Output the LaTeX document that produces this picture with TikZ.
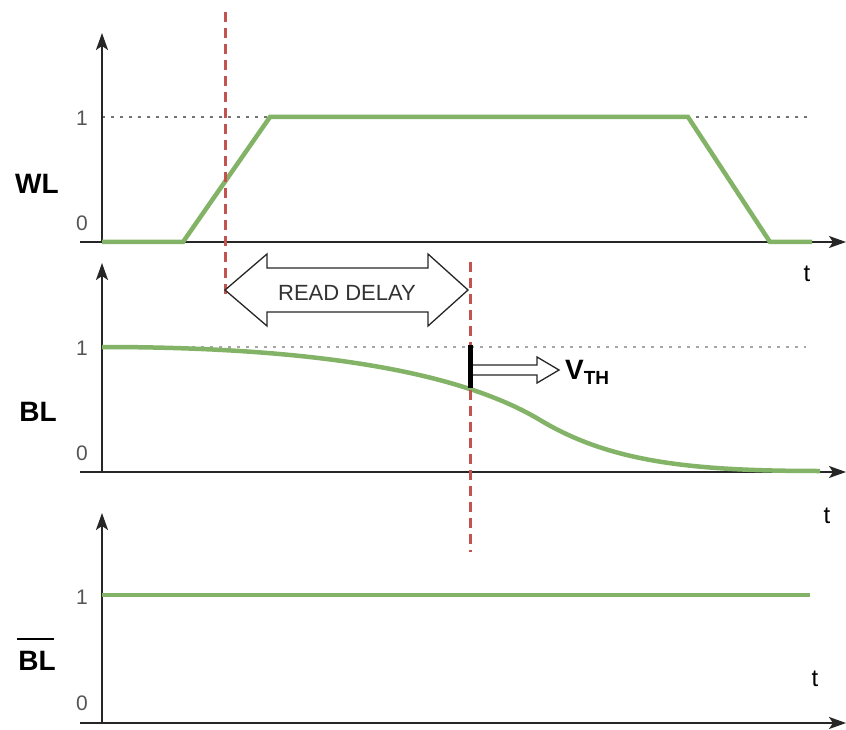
\documentclass[tikz,border=0pt]{standalone}
\usepackage{fontspec}
\setmainfont{Liberation Sans}
\usetikzlibrary{arrows.meta}
\definecolor{sig}{HTML}{82B366}
\definecolor{mark}{HTML}{C4524E}
\definecolor{numgray}{HTML}{555555}
\definecolor{txtgray}{HTML}{333333}
\begin{document}
\begin{tikzpicture}[x=1pt,y=-1pt,
  axis/.style={line width=2pt, draw=black!85, -{Stealth[length=17pt,width=12pt,inset=4pt]}},
  level/.style={line width=2pt, dash pattern=on 3pt off 6pt},
  wave/.style={line width=4.5pt, draw=sig, line join=miter},
  marker/.style={line width=3pt, draw=mark, dash pattern=on 10pt off 6pt},
  num/.style={font=\fontsize{21}{24}\selectfont, text=numgray, inner sep=0pt},
  sig label/.style={font=\fontsize{28}{30}\selectfont\bfseries, inner sep=0pt},
  tlab/.style={font=\fontsize{24}{26}\selectfont, inner sep=0pt},
  hollow/.style={draw=black!85, line width=1.3pt, fill=white, line join=miter}
]
\useasboundingbox (0,0) rectangle (846,730);

% ---------------- WL panel ----------------
\coordinate (wlo) at (102,242);
\coordinate (wly) at (102,33);
\coordinate (wlxs) at (80,242);
\coordinate (wlx) at (846,242);
\coordinate (wl1a) at (102,117);
\coordinate (wl1b) at (808,117);
\draw[level, draw=black!55] (wl1a) -- (wl1b);
\draw[axis] (wlo) -- (wly);
\draw[axis] (wlxs) -- (wlx);
\draw[wave] (102,242) -- (183,242) -- (270,117) -- (688,117) -- (770,242) -- (812,242);
\node[num] (wlone) at (82,118) {1};
\node[num] (wlzero) at (82,223) {0};
\node[sig label] (wllab) at (37,184) {WL};
\node[tlab] (wlt) at (807,274) {t};

% ---------------- BL panel ----------------
\coordinate (blo) at (102,472);
\coordinate (bly) at (102,263);
\coordinate (blxs) at (80,472);
\coordinate (blx) at (846,472);
\coordinate (bl1a) at (102,347);
\coordinate (bl1b) at (806,347);
\draw[level, draw=black!35] (bl1a) -- (bl1b);
\draw[axis] (blo) -- (bly);
\draw[axis] (blxs) -- (blx);
\coordinate (blstart) at (102,347);
\coordinate (blmid) at (540,420);
\coordinate (blend) at (820,471);
\draw[wave] (blstart) .. controls (340,347) and (470,378) .. (blmid)
  .. controls (610,462) and (690,471) .. (blend);
\node[num] (blone) at (82,348) {1};
\node[num] (blzero) at (82,453) {0};
\node[sig label] (bllab) at (38,412) {BL};
\node[tlab] (blt) at (827,516) {t};

% ---------------- BL bar panel ----------------
\coordinate (bbo) at (102,723);
\coordinate (bby) at (102,513);
\coordinate (bbxs) at (80,723);
\coordinate (bbx) at (846,723);
\draw[axis] (bbo) -- (bby);
\draw[axis] (bbxs) -- (bbx);
\draw[wave] (102,595) -- (810,595);
\node[num] (bbone) at (82,597) {1};
\node[num] (bbzero) at (82,703) {0};
\node[sig label] (bblab) at (37,661) {BL};
\draw[line width=2.6pt] (17,639) -- (54,639);
\node[tlab] (bbt) at (815,679) {t};

% ---------------- markers ----------------
\coordinate (m1t) at (225,12);
\coordinate (m1b) at (225,300);
\coordinate (m2t) at (470,262);
\coordinate (m2b) at (470,552);
\draw[marker] (m1t) -- (m1b);
\draw[marker] (m2t) -- (m2b);

% READ DELAY double arrow
\draw[hollow] (225,290) -- (267,254) -- (267,268) -- (428,268) -- (428,254)
  -- (468,290) -- (428,326) -- (428,312) -- (267,312) -- (267,326) -- cycle;
\node[font=\fontsize{22}{24}\selectfont, text=txtgray, inner sep=0pt] (rd) at (347,293) {READ DELAY};

% V_TH marker
\draw[hollow] (472,365) -- (537,365) -- (537,357) -- (559,370) -- (537,383) -- (537,375) -- (472,375);
\draw[line width=5pt] (470,345) -- (470,388);
\node[anchor=west, inner sep=0pt, font=\fontsize{28}{30}\selectfont\bfseries] (vth) at (565,372)
  {V\raisebox{-0.35ex}{\fontsize{19}{20}\selectfont TH}};

\end{tikzpicture}
\end{document}
